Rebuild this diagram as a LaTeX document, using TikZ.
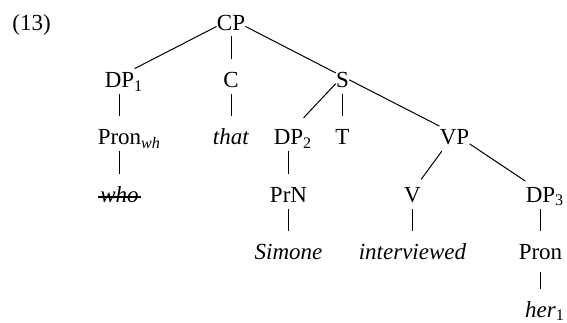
\documentclass[tikz,border=0pt]{standalone}
\usepackage{fontspec}
\setmainfont{Liberation Serif}

\begin{document}
\begin{tikzpicture}[x=0.5pt, y=-0.5pt, font=\fontsize{11.5}{13}\selectfont,
        every node/.style={inner sep=0pt, text height=14pt, text depth=3pt},
        edge from parent/.style={draw, line width=0.5pt},
        level distance=28.7pt,
        level 1/.style={sibling distance=55.75pt},
        level 2/.style={sibling distance=27pt},
        level 3/.style={sibling distance=64pt}]
        \useasboundingbox (0,0) rectangle (567,322);
        \node[anchor=base west] (ex) at (12,30) {(13)};
        \node (cp) at (231,19) {CP}
            child {
                node (dp1) {DP\rlap{\textsubscript{1}}}
                child {
                    node (pronwh) {Pron\rlap{\textsubscript{\textit{wh}}}}
                    child {
                        node (who) {\textit{who}}
                    }
                }
            }
            child {
                node (c) {C}
                child {
                    node (that) {\textit{that}}
                }
            }
            child {
                node (s) {S}
                child {
                    node (dp2) {DP\rlap{\textsubscript{2}}}
                    child {
                        node (prn) {PrN}
                        child {
                            node (simone) {\textit{Simone}}
                        }
                    }
                }
                child {
                    node (t) {T}
                }
                child[xshift=29pt] {
                    node (vp) {VP}
                    child[xshift=11pt] {
                        node (v) {V}
                        child {
                            node (interviewed) {\textit{interviewed}}
                        }
                    }
                    child[xshift=11pt] {
                        node (dp3) {DP\rlap{\textsubscript{3}}}
                        child {
                            node (pron) {Pron}
                            child {
                                node (her) {\textit{her}\rlap{\textsubscript{1}}}
                                edge from parent[shorten <=3pt]
                            }
                        }
                    }
                }
            };
        % struck-out copy
        \draw[line width=0.9pt, shorten <=-1pt, shorten >=-1pt]
            ([yshift=2.5pt]who.base west) -- ([yshift=2.5pt]who.base east);
    \end{tikzpicture}
\end{document}
